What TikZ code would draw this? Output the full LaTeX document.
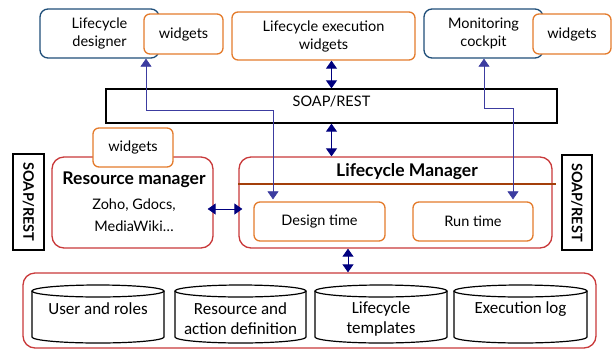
\documentclass[tikz,border=0pt]{standalone}
\usepackage{fontspec}
\setmainfont{Lato}
\newfontfamily\calfont{Carlito}
\usetikzlibrary{arrows.meta}
\definecolor{navyb}{HTML}{1F4E79}
\definecolor{orng}{HTML}{E47B2C}
\definecolor{redb}{HTML}{C9393A}
\definecolor{arrowc}{HTML}{00007F}
\definecolor{linec}{HTML}{3C3CA0}
\definecolor{brownl}{HTML}{A33F0A}
\begin{document}
\begin{tikzpicture}[x=1pt,y=-1pt,
  box/.style={draw, line width=1.3pt, fill=white, inner sep=0pt, align=center, font=\fontsize{14.5}{18}\selectfont},
  bluebox/.style={box, draw=navyb, rounded corners=8pt},
  orbox/.style={box, draw=orng, rounded corners=6pt},
  redbox/.style={box, draw=redb, rounded corners=12pt},
  blkbox/.style={box, draw=black},
  dbl/.style={{Triangle[width=11pt,length=8pt]}-{Triangle[width=11pt,length=8pt]}, draw=arrowc, fill=arrowc, line width=0.9pt},
  thinl/.style={{Triangle[width=11pt,length=8pt]}-{Triangle[width=11pt,length=8pt]}, draw=linec, line width=0.7pt},
  lbl/.style={inner sep=0pt, align=center, font=\fontsize{14.5}{18}\selectfont},
  boldlbl/.style={inner sep=0pt, align=center, font=\bfseries\fontsize{17.5}{20}\selectfont},
  sidebox/.style={blkbox, rotate=-90, font=\bfseries\fontsize{14.5}{16}\selectfont},
  cyl/.style={draw, line width=1.2pt, fill=white},
  cyltext/.style={inner sep=0pt, align=center, font=\calfont\fontsize{17}{20}\selectfont}
]
\useasboundingbox (0,0) rectangle (613,349);

% top row
\node[bluebox, minimum width=119pt, minimum height=49pt] (des) at (99.5,33.5) {Lifecycle\\designer};
\node[orbox, minimum width=79pt, minimum height=40pt] (w1) at (183.5,34) {widgets};
\node[orbox, minimum width=183pt, minimum height=48pt] (exec) at (323.5,36) {Lifecycle execution\\widgets};
\node[bluebox, minimum width=119pt, minimum height=49pt] (mon) at (483.5,33.5) {Monitoring\\cockpit};
\node[orbox, minimum width=78pt, minimum height=40pt] (w2) at (572,34) {widgets};

% SOAP bar
\node[blkbox, minimum width=451pt, minimum height=34pt] (soap) at (331.5,106) {};
\node[lbl] (soapt) at (331.5,101) {SOAP/REST};

% side SOAP/REST
\node[sidebox, minimum width=96pt, minimum height=31pt] (sl) at (28.5,202) {SOAP/REST};
\node[sidebox, minimum width=95pt, minimum height=30pt] (sr) at (577,202.5) {SOAP/REST};

% resource manager
\node[redbox, minimum width=161pt, minimum height=91pt] (rm) at (132.5,202.5) {};
\node[orbox, minimum width=80pt, minimum height=39pt] (w3) at (133,147.5) {widgets};
\node[boldlbl] (rmt) at (134,180) {Resource manager};
\node[lbl, font=\fontsize{14.5}{22}\selectfont] (rml) at (134,215) {Zoho, Gdocs,\\MediaWiki\ldots};

% lifecycle manager
\node[redbox, minimum width=313pt, minimum height=91pt] (lm) at (395.5,202.5) {};
\node[boldlbl] (lmt) at (407,172) {Lifecycle Manager};
\draw[brownl, line width=1.3pt] ([yshift=18.5pt]lm.west) -- ([xshift=3pt,yshift=18.5pt]lm.east);
\node[orbox, minimum width=131pt, minimum height=39pt] (dt) at (319.5,221.5) {Design time};
\node[orbox, minimum width=120pt, minimum height=39pt] (rt) at (473,221.5) {Run time};

% data container
\node[redbox, minimum width=573pt, minimum height=75pt] (db) at (309.5,310.5) {};
\foreach \L/\R in {32/164, 175/306, 315/447, 454/587}{
  \pgfmathsetmacro{\rx}{(\R-\L)/2}
  \pgfmathsetmacro{\cx}{(\R+\L)/2}
  \draw[cyl] (\L,291) -- (\L,337) arc[start angle=180, end angle=360, x radius=\rx pt, y radius=6pt] -- (\R,291);
  \draw[cyl] (\cx,291) ellipse [x radius=\rx pt, y radius=6pt];
}
\node[cyltext] (t1) at (98,309) {User and roles};
\node[cyltext] (t2) at (240.5,319) {Resource and\\action definition};
\node[cyltext] (t3) at (381,319) {Lifecycle\\templates};
\node[cyltext] (t4) at (520.5,309) {Execution log};

% connectors
\draw[thinl, shorten >=2pt] ([xshift=46.5pt]des.south) -- ++(0,52) -| ([xshift=-46.5pt]dt.north);
\draw[thinl, shorten >=2pt] ([xshift=0.5pt]mon.south) -- ++(0,50) -| ([xshift=40pt]rt.north);
\draw[dbl] (soap.north |- exec.south) -- (soap.north);
\draw[dbl] (soap.south) -- (soap.south |- lm.north);
\draw[dbl] ([xshift=-6pt,yshift=-6.5pt]rm.east) -- ([xshift=4pt,yshift=-6.5pt]lm.west);
\coordinate (a3) at ([xshift=-47.5pt]lm.south);
\draw[dbl] (a3) -- (a3 |- db.north);
\end{tikzpicture}
\end{document}
